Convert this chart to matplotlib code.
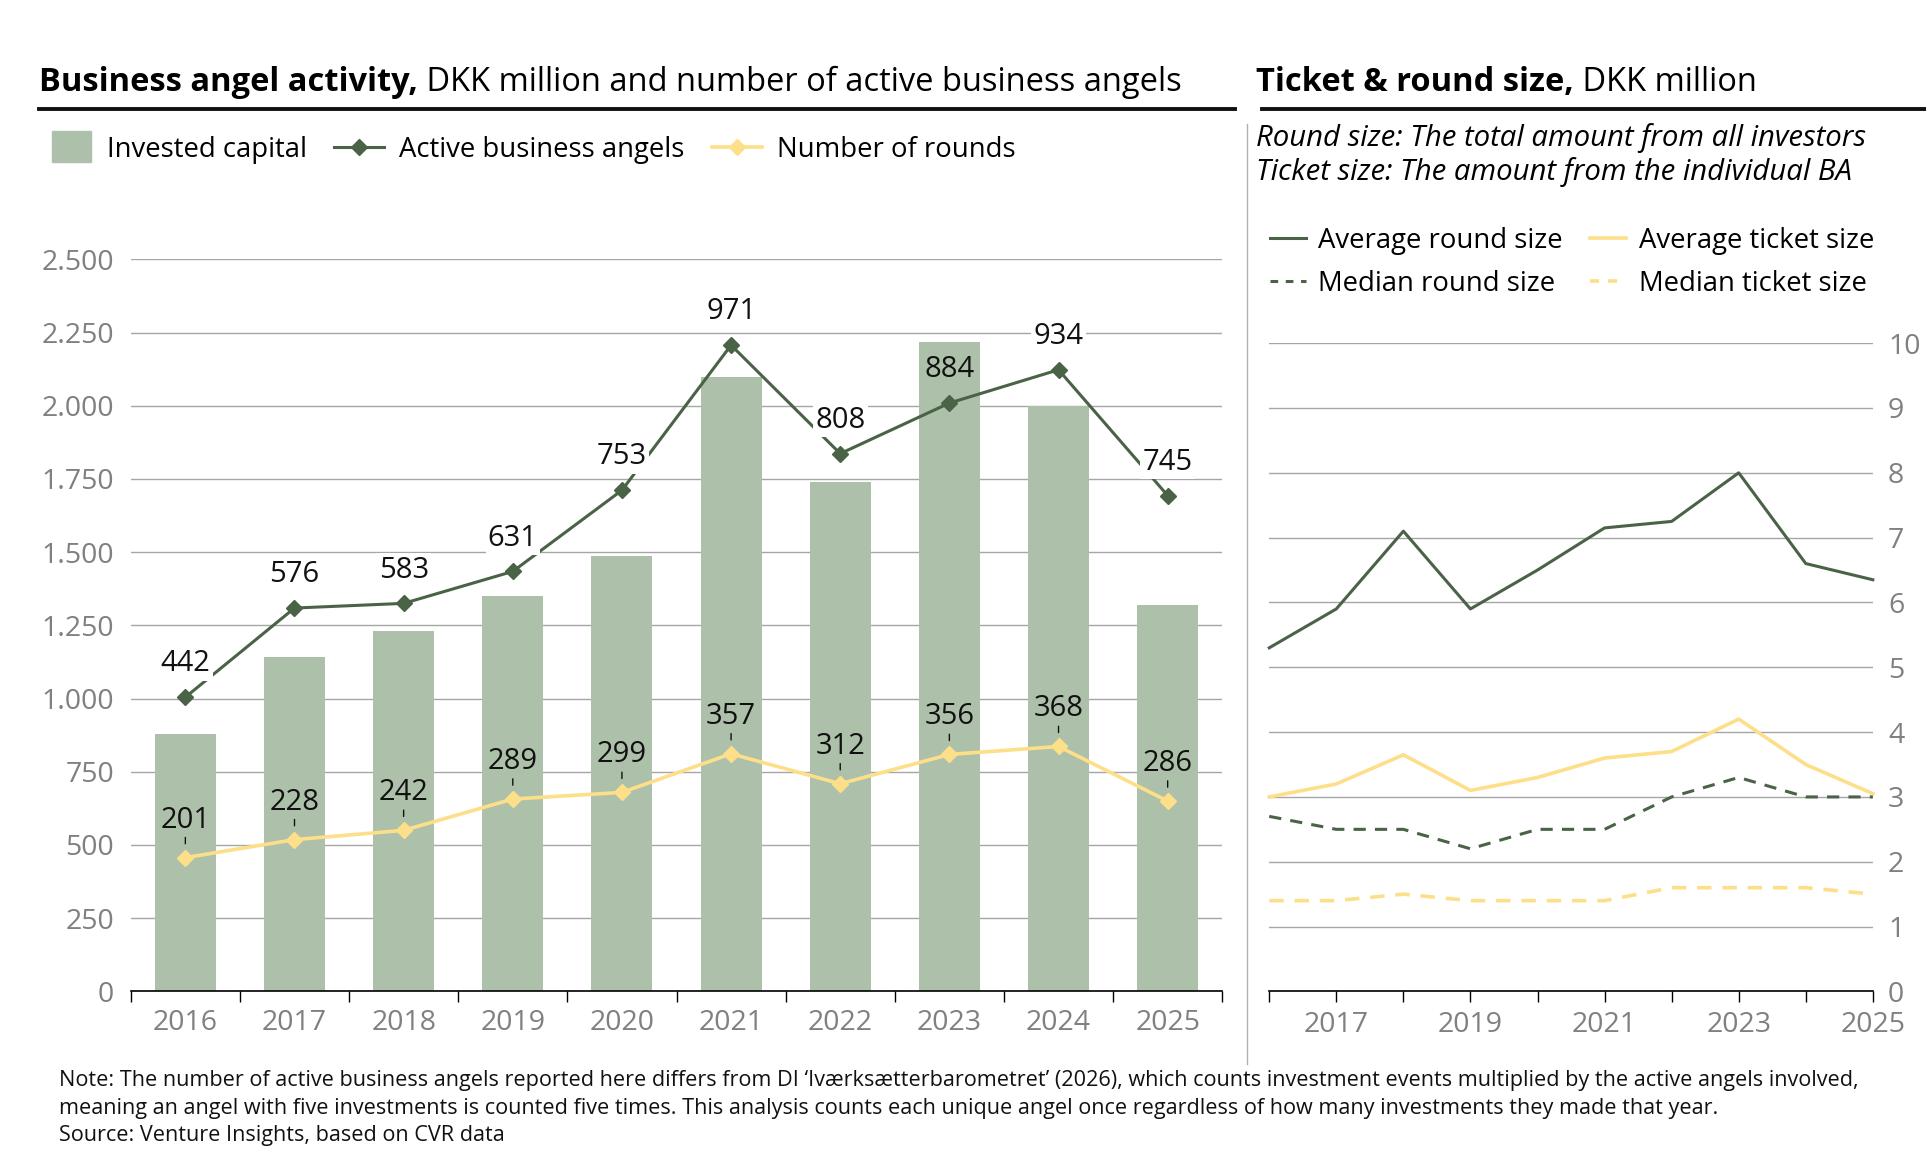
import numpy as np
import matplotlib
matplotlib.use("Agg")
import matplotlib.pyplot as plt
import matplotlib.patches as mpatches
from matplotlib.lines import Line2D
from matplotlib.legend_handler import HandlerPatch

plt.rcParams['font.family'] = ['Open Sans', 'DejaVu Sans']

# left chart data
years = [2016, 2017, 2018, 2019, 2020, 2021, 2022, 2023, 2024, 2025]
invested = [879, 1143, 1230, 1350, 1486, 2098, 1740, 2217, 2000, 1320]
angels = [442, 576, 583, 631, 753, 971, 808, 884, 934, 745]
rounds = [201, 228, 242, 289, 299, 357, 312, 356, 368, 286]

# right chart data
avg_round = [5.3, 5.9, 7.1, 5.9, 6.5, 7.15, 7.25, 8.0, 6.6, 6.35]
avg_ticket = [3.0, 3.2, 3.65, 3.1, 3.3, 3.6, 3.7, 4.2, 3.5, 3.05]
med_round = [2.7, 2.5, 2.5, 2.2, 2.5, 2.5, 3.0, 3.3, 3.0, 3.0]
med_ticket = [1.4, 1.4, 1.5, 1.4, 1.4, 1.4, 1.6, 1.6, 1.6, 1.5]

GREEN = '#4a6347'
BAR = '#adc0a9'
YELLOW = '#fddf8a'
GREY = '#808080'
GRID = '#a6a6a6'

TICK_FS = 20.5
LAB_FS = 21
LEG_FS = 19.8
TITLE_FS = 23.5

fig = plt.figure(figsize=(19.26, 11.68), dpi=100)

# ---------- left chart ----------
ax1 = fig.add_axes([0.0679, 0.1512, 0.5667, 0.6268])
x = np.arange(len(years))
ax1.bar(x, invested, width=0.56, color=BAR, zorder=2)
ax1.set_xlim(-0.5, len(years) - 0.5)
ax1.set_ylim(0, 2500)
yt = np.arange(0, 2501, 250)
ax1.set_yticks(yt, [f"{v:,}".replace(',', '.') for v in yt])
ax1.set_xticks(x, [str(y) for y in years])
ax1.set_xticks(np.arange(-0.5, len(years)), minor=True)
ax1.tick_params(axis='both', which='major', length=0, labelsize=TICK_FS, labelcolor=GREY)
ax1.tick_params(axis='y', pad=12)
ax1.tick_params(axis='x', pad=13)
ax1.tick_params(axis='x', which='minor', length=8, width=1, color='black', direction='out')
ax1.grid(axis='y', color=GRID, linewidth=1)
ax1.set_axisbelow(True)
for s in ['top', 'left', 'right']:
    ax1.spines[s].set_visible(False)
ax1.spines['bottom'].set_color('black')
ax1.spines['bottom'].set_linewidth(1.2)
ax1.spines['bottom'].set_zorder(5)

SEC_MAX = 1100
ax1b = ax1.twinx()
ax1b.set_ylim(0, SEC_MAX)
ax1b.axis('off')
ax1b.plot(x, angels, color=GREEN, lw=2.2, marker='D', ms=8, zorder=3)
ax1b.plot(x, rounds, color=YELLOW, lw=2.6, marker='D', ms=8, zorder=3)
for i, v in enumerate(angels):
    # label sits on the bar when the bar reaches above it
    inside = invested[i] > v * 2500 / SEC_MAX + 150
    ax1b.annotate(str(v), (i, v), xytext=(0, 24), textcoords='offset points',
                  ha='center', va='center', fontsize=LAB_FS, color='#111111', zorder=4,
                  bbox=dict(boxstyle='square,pad=0.08', fc=BAR if inside else 'white', ec='none'))
for i, v in enumerate(rounds):
    ax1b.annotate(str(v), (i, v), xytext=(0, 27), textcoords='offset points',
                  ha='center', va='center', fontsize=LAB_FS, color='#111111', zorder=4,
                  arrowprops=dict(arrowstyle='-', color='#111111', lw=1, shrinkA=0, shrinkB=10))

# left title
r = fig.canvas.get_renderer()
t1 = fig.text(0.0205, 0.922, "Business angel activity,", fontsize=TITLE_FS, fontweight='bold', va='baseline')
bb = t1.get_window_extent(r)
fig.text(bb.x1 / fig.bbox.width, 0.922, " DKK million and number of active business angels",
         fontsize=TITLE_FS, va='baseline')
fig.add_artist(Line2D([0.0205, 0.641], [0.907, 0.907], color='#111111', lw=2.8))


def right_rect(legend, orig_handle, xdescent, ydescent, width, height, fontsize):
    return mpatches.Rectangle((-xdescent + width * 0.21, -ydescent - height * 0.3),
                              width * 0.79, height * 1.6)


h_cap = mpatches.Patch(color=BAR)
h_ang = Line2D([], [], color=GREEN, lw=2.2, marker='D', ms=8)
h_rnd = Line2D([], [], color=YELLOW, lw=2.6, marker='D', ms=8)
fig.legend([h_cap, h_ang, h_rnd], ["Invested capital", "Active business angels", "Number of rounds"],
           loc='center left', bbox_to_anchor=(0.0215, 0.872), ncol=3, frameon=False,
           fontsize=LEG_FS, handlelength=1.82, handletextpad=0.55, columnspacing=1.0,
           borderaxespad=0, borderpad=0, handler_map={mpatches.Patch: HandlerPatch(patch_func=right_rect)})

# ---------- right chart ----------
ax2 = fig.add_axes([0.659, 0.1512, 0.3134, 0.555])
ax2.plot(years, avg_round, color=GREEN, lw=2.2, clip_on=False)
ax2.plot(years, avg_ticket, color=YELLOW, lw=2.6, clip_on=False)
ax2.plot(years, med_round, color=GREEN, lw=2.2, ls=(0, (4, 3)), clip_on=False)
ax2.plot(years, med_ticket, color=YELLOW, lw=2.6, ls=(0, (4, 3)), clip_on=False)
ax2.set_xlim(years[0], years[-1])
ax2.set_ylim(0, 10)
ax2.set_yticks(np.arange(0, 11))
ax2.yaxis.tick_right()
ax2.set_xticks(years, [str(y) if y % 2 else '' for y in years])
ax2.tick_params(axis='y', length=0, labelsize=TICK_FS, labelcolor=GREY, pad=11)
ax2.tick_params(axis='x', length=8, width=1, color='black', direction='out',
                labelsize=TICK_FS, labelcolor=GREY, pad=6)
ax2.grid(axis='y', color=GRID, linewidth=1)
ax2.set_axisbelow(True)
for s in ['top', 'left', 'right']:
    ax2.spines[s].set_visible(False)
ax2.spines['bottom'].set_color('black')
ax2.spines['bottom'].set_linewidth(1.2)

t2 = fig.text(0.652, 0.922, "Ticket & round size,", fontsize=TITLE_FS, fontweight='bold', va='baseline')
bb2 = t2.get_window_extent(r)
fig.text(bb2.x1 / fig.bbox.width, 0.922, " DKK million", fontsize=TITLE_FS, va='baseline')
fig.add_artist(Line2D([0.655, 0.9995], [0.907, 0.907], color='#111111', lw=2.8))

fig.text(0.652, 0.882, "Round size: The total amount from all investors", fontsize=21.2,
         style='italic', va='center')
fig.text(0.652, 0.853, "Ticket size: The amount from the individual BA", fontsize=21.2,
         style='italic', va='center')

hr = [Line2D([], [], color=GREEN, lw=2.2),
      Line2D([], [], color=GREEN, lw=2.2, ls=(0, (2.5, 2.5))),
      Line2D([], [], color=YELLOW, lw=2.6),
      Line2D([], [], color=YELLOW, lw=2.6, ls=(0, (2.5, 2.5)))]
fig.legend(hr, ["Average round size", "Median round size", "Average ticket size", "Median ticket size"],
           loc='center left', bbox_to_anchor=(0.6595, 0.7755), ncol=2, frameon=False,
           fontsize=LEG_FS, handlelength=1.3, handletextpad=0.45, columnspacing=1.0,
           labelspacing=0.55, borderaxespad=0, borderpad=0)

# separator
fig.add_artist(Line2D([0.6474, 0.6474], [0.089, 0.894], color='#b0b0b0', lw=1))

# notes
notes = ["Note: The number of active business angels reported here differs from DI \u2018Iv\u00e6rks\u00e6tterbarometret\u2019 (2026), which counts investment events multiplied by the active angels involved,",
         "meaning an angel with five investments is counted five times. This analysis counts each unique angel once regardless of how many investments they made that year.",
         "Source: Venture Insights, based on CVR data"]
for k, line in enumerate(notes):
    fig.text(0.0308, 0.0745 - k * 0.0233, line, fontsize=15.6, va='center', color='#111111')

fig.savefig("out.png", dpi=100)
